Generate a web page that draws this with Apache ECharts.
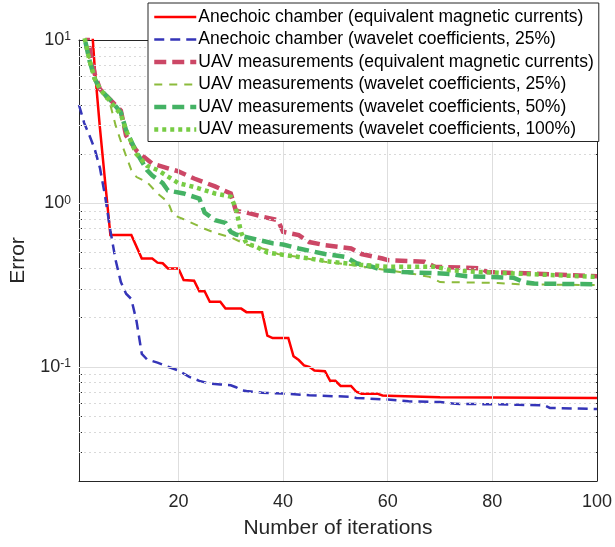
<!DOCTYPE html>
<html>
<head>
<meta charset="utf-8">
<script src="https://cdn.jsdelivr.net/npm/echarts@6/dist/echarts.min.js"></script>
<style>
html,body{margin:0;padding:0;background:#fff;}
#chart{width:615px;height:547px;}
</style>
</head>
<body>
<div id="chart"></div>
<script>
// ---- Data ----
const seriesNames = [
  'Anechoic chamber (equivalent magnetic currents)',
  'Anechoic chamber (wavelet coefficients, 25%)',
  'UAV measurements (equivalent magnetic currents)',
  'UAV measurements (wavelet coefficients, 25%)',
  'UAV measurements (wavelet coefficients, 50%)',
  'UAV measurements (wavelet coefficients, 100%)'
];

const redIter = [1,2,3,4,5,6,7,11,13,15,16,17,18,20,21,23,24,25,26,28,29,32,33,36,37,38,41,42,43,44,45,46,48,49,50,51,53,54,55,58,59,60,70,100];
const redErr  = [40,30,20,6.8,2.9,1.35,0.64,0.64,0.46,0.46,0.434,0.43,0.40,0.40,0.34,0.336,0.29,0.29,0.25,0.25,0.227,0.227,0.216,0.216,0.155,0.15,0.15,0.116,0.11,0.102,0.1,0.095,0.094,0.082,0.082,0.0763,0.0763,0.0703,0.0685,0.0685,0.0667,0.0665,0.065,0.0645];

const blueIter = [1,2,3,4,5,6,7,8,9,10,11,12,13,14,16,18,20,22,24,26,28,30,31,32,33,36,40,45,50,53,54,56,60,64,70,73,80,85,90,91,100];
const blueErr  = [4.0,3.1,2.6,2.15,1.65,1.1,0.68,0.45,0.33,0.28,0.26,0.19,0.12,0.111,0.106,0.1,0.095,0.087,0.082,0.079,0.078,0.077,0.075,0.072,0.071,0.0694,0.0686,0.067,0.066,0.0656,0.0645,0.064,0.063,0.0615,0.0608,0.0593,0.059,0.0586,0.058,0.056,0.0552];

const uavEmcIter = [1,2,3,4,5,7,9,10,12,15,20,23,27,30,31,33,36,39,40,43,45,48,53,55,59,60,67,69,78,79,88,100];
const uavEmcErr  = [25,13,9,6.2,5.0,4.3,3.7,2.6,2.1,1.75,1.57,1.42,1.27,1.15,0.9,0.88,0.83,0.79,0.67,0.64,0.58,0.555,0.53,0.49,0.46,0.45,0.44,0.41,0.40,0.38,0.372,0.358];

const uav25Iter = [1,2,3,4,5,7,8,9,10,11,12,14,16,18,19,21,25,27,30,33,37,39,43,48,53,60,65,68,70,81,85,100];
const uav25Err  = [16,10.5,7.5,5.8,5.0,4.0,3.0,2.4,1.95,1.6,1.45,1.35,1.15,1.02,0.85,0.8,0.7,0.66,0.62,0.56,0.52,0.49,0.47,0.44,0.42,0.39,0.37,0.355,0.33,0.326,0.32,0.316];

const uav50Iter = [1,2,3,4,5,7,9,10,12,14,15,17,18,21,24,25,27,29,30,31,35,38,40,43,48,52,54,57,59,63,68,72,75,84,86,88,100];
const uav50Err  = [16,10.5,7.5,5.8,5.0,4.3,3.6,2.8,2.05,1.6,1.48,1.33,1.2,1.15,1.07,0.88,0.79,0.76,0.67,0.645,0.6,0.57,0.56,0.53,0.49,0.47,0.43,0.41,0.39,0.38,0.375,0.37,0.358,0.351,0.33,0.323,0.32];

const uav100Iter = [1,2,3,4,5,7,9,10,12,14,16,18,20,23,27,30,31,32,33,35,37,43,49,55,60,69,72,78,88,100];
const uav100Err  = [16,10.5,7.5,5.8,5.0,4.2,3.5,2.8,2.0,1.7,1.6,1.46,1.33,1.26,1.15,1.1,0.93,0.66,0.57,0.54,0.5,0.47,0.44,0.42,0.41,0.41,0.39,0.38,0.368,0.355];

// ---- Axis ticks / grid values ----
const xTicks = [20,40,60,80,100];
const xGrid = [20,40,60,80];
const yMajor = [0.1,1,10];
const yMajorGrid = [0.1,1];
const yMinor = [0.02,0.03,0.04,0.05,0.06,0.07,0.08,0.09,0.2,0.3,0.4,0.5,0.6,0.7,0.8,0.9,2,3,4,5,6,7,8,9];
const xRange = [1,100];
const yRange = [0.02,10];

// ---- Styles ----
const FONT = 'Liberation Sans, Arial, Helvetica, sans-serif';
const AX = '#262626';
const styles = [
  {color:'#ff0000', width:2.5, type:'solid'},
  {color:'#3535b8', width:2.5, type:[10,6]},
  {color:'#cc4766', width:4.5, type:[12,6]},
  {color:'#8cbb3c', width:2, type:[8,7]},
  {color:'#44b264', width:4.5, type:[12,6]},
  {color:'#77cc44', width:4.5, type:[4,4]}
];
const iters = [redIter, blueIter, uavEmcIter, uav25Iter, uav50Iter, uav100Iter];
const errs  = [redErr, blueErr, uavEmcErr, uav25Err, uav50Err, uav100Err];

function zip(a,b){ return a.map((v,i)=>[v,b[i]]); }

const gridLines = [];
xGrid.forEach(v=>gridLines.push({xAxis:v, lineStyle:{color:'#dedede', width:1, type:'solid'}}));
yMajorGrid.forEach(v=>gridLines.push({yAxis:v, lineStyle:{color:'#dedede', width:1, type:'solid'}}));
yMinor.filter(v=>v>yRange[0]).forEach(v=>gridLines.push({yAxis:v, lineStyle:{color:'#d9d9d9', width:1, type:[2,3]}}));

const series = [{
  name:'__grid', type:'line', data:[], z:1, silent:true,
  xAxisIndex:0, yAxisIndex:0,
  markLine:{silent:true, symbol:'none', animation:false, label:{show:false}, data:gridLines}
}];
seriesNames.forEach((n,i)=>{
  series.push({
    name:n, type:'line', symbol:'none', showSymbol:false, clip:true,
    xAxisIndex:0, yAxisIndex:0, z:2+i,
    data: zip(iters[i], errs[i]),
    lineStyle:{color:styles[i].color, width:styles[i].width, type:styles[i].type, cap:'butt', join:'miter'},
    itemStyle:{color:styles[i].color}
  });
});

function yAxisBase(pos){
  return {type:'log', logBase:10, min:yRange[0], max:yRange[1], position:pos,
    axisLine:{show:true, onZero:false, lineStyle:{color:AX, width:1}},
    splitLine:{show:false}, minorTick:{show:false}};
}
const yLabelFmt = v => { const e = Math.round(Math.log10(v)); return '{b|10}{s|' + e + '}'; };

const option = {
  animation:false,
  backgroundColor:'#fff',
  textStyle:{fontFamily:FONT},
  grid:{left:79, right:17, top:40, bottom:66, containLabel:false},
  legend:{
    data:seriesNames, orient:'vertical', left:148, top:3,
    padding:[5,5,3,4], itemGap:4.5, itemWidth:42, itemHeight:14,
    backgroundColor:'#fff', borderColor:AX, borderWidth:1, borderRadius:0,
    itemStyle:{opacity:0},
    lineStyle:{width:'inherit'},
    textStyle:{fontSize:17.5, lineHeight:17, color:'#000', fontFamily:FONT, padding:[0,0,0,-3]},
    selectedMode:false, z:20
  },
  xAxis:[
    {type:'value', min:xRange[0], max:xRange[1], position:'bottom',
     axisLine:{show:true, onZero:false, lineStyle:{color:AX, width:1}},
     axisTick:{show:true, inside:true, length:5, customValues:xTicks, lineStyle:{color:AX}},
     axisLabel:{customValues:xTicks, fontSize:18, color:AX, margin:12, fontFamily:FONT},
     splitLine:{show:false},
     name:'Number of iterations', nameLocation:'middle', nameGap:37,
     nameTextStyle:{fontSize:21, color:AX, fontFamily:FONT}},
    {type:'value', min:xRange[0], max:xRange[1], position:'top',
     axisLine:{show:true, onZero:false, lineStyle:{color:AX, width:1}},
     axisTick:{show:true, inside:true, length:5, customValues:xTicks, lineStyle:{color:AX}},
     axisLabel:{show:false}, splitLine:{show:false}}
  ],
  yAxis:[
    Object.assign(yAxisBase('left'), {
      axisTick:{show:true, inside:true, length:5, customValues:yMajor, lineStyle:{color:AX}},
      axisLabel:{customValues:yMajor, formatter:yLabelFmt, margin:8, color:AX,
        rich:{
          b:{fontSize:18, lineHeight:18, color:AX, fontFamily:FONT, verticalAlign:'bottom', padding:[9,0,0,0]},
          s:{fontSize:12, lineHeight:13, color:AX, fontFamily:FONT, verticalAlign:'top'}
        }},
      name:'Error', nameLocation:'middle', nameGap:50,
      nameTextStyle:{fontSize:21, color:AX, fontFamily:FONT}
    }),
    Object.assign(yAxisBase('right'), {
      axisTick:{show:true, inside:true, length:5, customValues:yMajor, lineStyle:{color:AX}},
      axisLabel:{show:false}
    }),
    Object.assign(yAxisBase('left'), {
      axisLine:{show:false},
      axisTick:{show:true, inside:true, length:3, customValues:yMinor, lineStyle:{color:AX}},
      axisLabel:{show:false}
    }),
    Object.assign(yAxisBase('right'), {
      axisLine:{show:false},
      axisTick:{show:true, inside:true, length:3, customValues:yMinor, lineStyle:{color:AX}},
      axisLabel:{show:false}
    })
  ],
  series:series
};

const chart = echarts.init(document.getElementById('chart'), null, {renderer:'canvas'});
chart.setOption(option);
</script>
</body>
</html>
